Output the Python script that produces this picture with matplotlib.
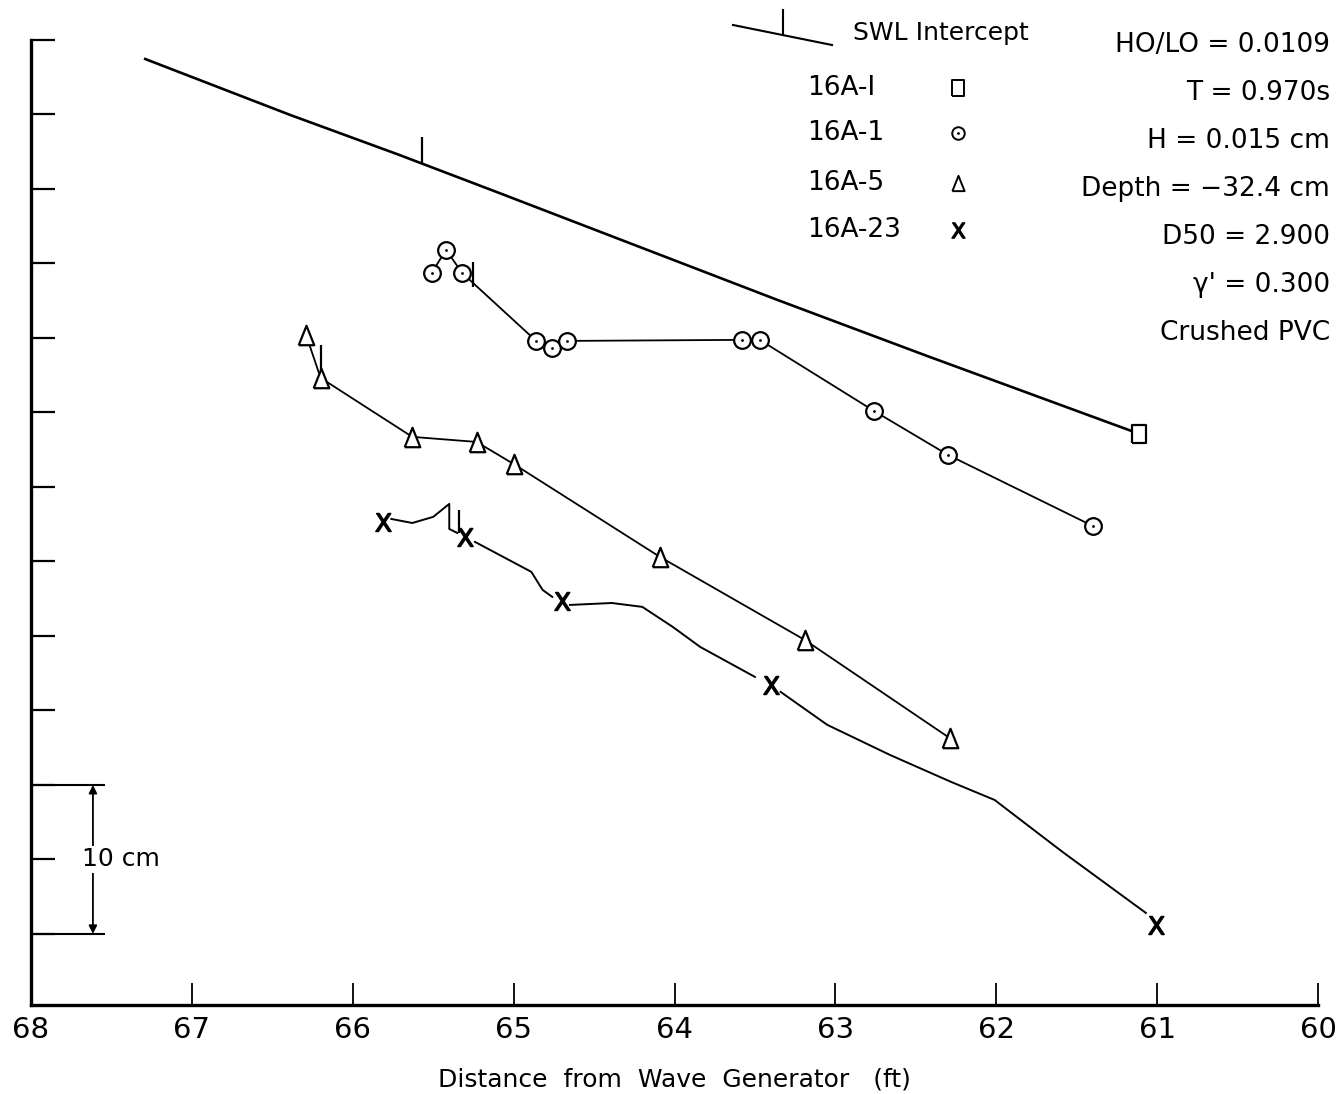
import numpy as np
import matplotlib
matplotlib.use('Agg')
import matplotlib.pyplot as plt
from matplotlib.lines import Line2D

# distance from wave generator (ft) and profile elevation (cm, arbitrary datum)
swl_x = [67.29, 66.39, 65.71, 65.09, 63.36, 62.43, 61.11]
swl_y = [58.72, 54.97, 52.28, 49.73, 42.55, 38.79, 33.56]
sq_x = [61.11]
sq_y = [33.56]

p1_x = [65.51, 65.42, 65.32, 64.86, 64.76, 64.67, 63.58, 63.47, 62.76, 62.30, 61.40]
p1_y = [44.36, 45.91, 44.36, 39.80, 39.33, 39.80, 39.87, 39.87, 35.10, 32.15, 27.38]

p5_x = [66.29, 66.20, 65.63, 65.23, 65.00, 64.09, 63.19, 62.29]
p5_y = [40.20, 37.32, 33.36, 33.02, 31.54, 25.30, 19.73, 13.15]

p23_x = [65.81, 65.30, 64.70, 63.40, 61.01]
p23_y = [27.65, 26.64, 22.35, 16.71, 0.60]
# traced profile between the X points (nan = break at a marker)
p23_line_x = [65.76, 65.63, 65.50, 65.40, 65.40, 65.35, np.nan,
              65.24, 64.89, 64.82, 64.76, np.nan,
              64.65, 64.39, 64.20, 64.01, 63.84, 63.50, np.nan,
              63.34, 63.05, 62.66, 62.28, 62.01, 61.71, 61.58, 61.07]
p23_line_y = [27.85, 27.58, 27.99, 28.86, 27.18, 26.91, np.nan,
              26.31, 24.30, 23.09, 22.62, np.nan,
              22.08, 22.21, 21.95, 20.60, 19.26, 17.25, np.nan,
              16.24, 14.03, 12.01, 10.20, 8.99, 6.51, 5.44, 1.41]

# SWL intercept marks
int_x = [65.57, 65.25, 66.20, 65.34]
int_y0 = [51.74, 43.42, 37.72, 26.91]
int_y1 = [53.49, 45.10, 39.53, 28.46]

xticks = [68, 67, 66, 65, 64, 63, 62, 61, 60]
yticks = [0, 5, 10, 15, 20, 25, 30, 35, 40, 45, 50, 55, 60]

params = ['HO/LO = 0.0109', 'T = 0.970s', 'H = 0.015 cm', 'Depth = \u221232.4 cm',
          'D50 = 2.900', "\u03b3' = 0.300", 'Crushed PVC']
legend_labels = ['16A-I', '16A-1', '16A-5', '16A-23']

W, H = 1339, 1094
fig = plt.figure(figsize=(W / 100, H / 100), dpi=100)
ax = fig.add_axes([31 / W, 89 / H, 1287 / W, 1005 / H])
ax.set_xlim(68, 60)
ax.set_ylim(-4.77, 62.68)

# hand-drawn looking symbols
tri = [(-0.8, -1), (0.8, -1), (0, 1), (-0.8, -1)]
box = [(-0.8, -1), (0.8, -1), (0.8, 1), (-0.8, 1), (-0.8, -1)]
xmark = r'$\mathsf{X}$'

mk = dict(color='k', mfc='white', mec='k', mew=1.6, zorder=3)

ax.plot(swl_x, swl_y, color='k', lw=1.9)
ax.plot(sq_x, sq_y, ls='none', marker=box, ms=13, **mk)

ax.plot(p1_x, p1_y, lw=1.3, marker='o', ms=12, **mk)
ax.plot(p1_x, p1_y, ls='none', marker='.', ms=2, color='k', zorder=4)

ax.plot(p5_x, p5_y, lw=1.3, marker=tri, ms=14, **mk)

ax.plot(p23_line_x, p23_line_y, color='k', lw=1.4)
ax.plot(p23_x, p23_y, ls='none', marker=xmark, ms=13, color='k', zorder=3)

ax.vlines(int_x, int_y0, int_y1, color='k', lw=1.6)

# 10 cm scale bar
ax.hlines([0, 10], 68, 67.54, color='k', lw=1.5)
ax.annotate('', xy=(67.615, 10), xytext=(67.615, 0),
            arrowprops=dict(arrowstyle='<|-|>', color='k', lw=1.3,
                            mutation_scale=12, shrinkA=0, shrinkB=0))
ax.text(67.68, 5, '10 cm', fontsize=18, va='center', ha='left',
        bbox=dict(facecolor='white', edgecolor='none', pad=1))

for s in ['top', 'right']:
    ax.spines[s].set_visible(False)
ax.spines['left'].set_linewidth(2.4)
ax.spines['bottom'].set_linewidth(2.4)
ax.spines['left'].set_bounds(-4.77, 60)

ax.set_xticks(xticks)
ax.set_xticklabels([str(t) for t in xticks])
ax.set_yticks(yticks)
ax.set_yticklabels([])
ax.tick_params(axis='x', direction='in', length=16, width=1.3, labelsize=21, pad=8)
ax.tick_params(axis='y', direction='in', length=17, width=1.6)
ax.set_xlabel('Distance  from  Wave  Generator   (ft)', fontsize=18, labelpad=17)

# legend drawn by hand
def fx(px):
    return px / W

def fy(py):
    return 1 - py / H

fig.add_artist(Line2D([fx(733), fx(832)], [fy(25), fy(45)], color='k', lw=1.5))
fig.add_artist(Line2D([fx(783), fx(783)], [fy(10), fy(35)], color='k', lw=1.5))
fig.text(fx(853), fy(33), 'SWL Intercept', fontsize=18, va='center', ha='left')

leg_marks = ['sq', 'o', 'tri', 'x']
leg_y = [88, 133, 183, 230]
for lab, m, yy in zip(legend_labels, leg_marks, leg_y):
    fig.text(fx(807), fy(yy), lab, fontsize=19, va='center', ha='left')
    pos = ([fx(958)], [fy(yy)])
    if m == 'x':
        fig.add_artist(Line2D(*pos, ls='none', marker=xmark, ms=11, color='k'))
    elif m == 'sq':
        fig.add_artist(Line2D(*pos, ls='none', marker=box, ms=11,
                              mfc='white', mec='k', mew=1.4))
    elif m == 'tri':
        fig.add_artist(Line2D(*pos, ls='none', marker=tri, ms=11,
                              mfc='white', mec='k', mew=1.4))
    else:
        fig.add_artist(Line2D(*pos, ls='none', marker='o', ms=9, mfc='white', mec='k', mew=1.4))
        fig.add_artist(Line2D(*pos, ls='none', marker='.', ms=2, color='k'))

for i, t in enumerate(params):
    fig.text(fx(1330), fy(45 + i * 48.0), t, fontsize=19, va='center', ha='right')

fig.savefig('out.png', dpi=100)
